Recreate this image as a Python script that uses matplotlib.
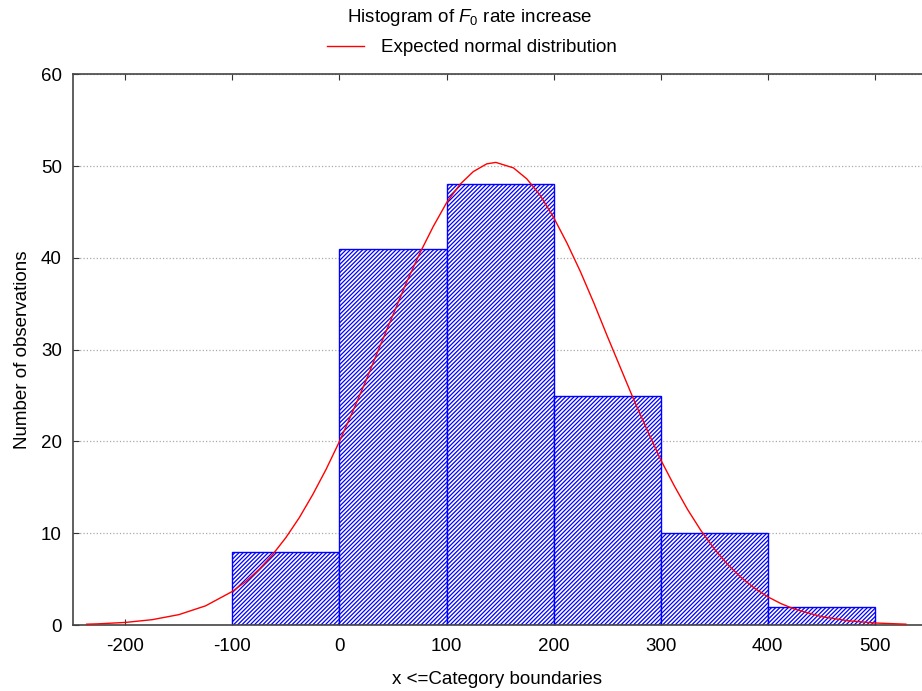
import matplotlib.pyplot as plt

# histogram data (category upper boundaries and counts)
bin_left = [-100, 0, 100, 200, 300, 400]
counts = [8, 41, 48, 25, 10, 2]
bin_width = 100

# expected normal curve
curve_x = [-236, -225, -200, -175, -150, -125, -100, -87.5, -75, -62.5, -50, -37.5,
           -25, -12.5, 0, 12.5, 25, 37.5, 50, 62.5, 75, 87.5, 100, 112.5, 125, 137.5,
           146, 162.5, 175, 187.5, 200, 212.5, 225, 237.5, 250, 262.5, 275, 287.5,
           300, 312.5, 325, 337.5, 350, 362.5, 375, 387.5, 400, 412.5, 425, 450,
           475, 500, 529]
curve_y = [0.09, 0.13, 0.28, 0.58, 1.13, 2.09, 3.66, 4.74, 6.07, 7.66, 9.53, 11.7,
           14.2, 16.96, 20.0, 23.3, 26.7, 30.3, 33.8, 37.3, 40.5, 43.4, 46.0, 48.0,
           49.4, 50.24, 50.4, 49.8, 48.6, 46.8, 44.4, 41.6, 38.5, 35.1, 31.5, 28.0,
           24.5, 21.2, 18.0, 15.2, 12.6, 10.3, 8.3, 6.6, 5.19, 4.02, 3.07, 2.32,
           1.73, 0.92, 0.46, 0.22, 0.09]

xticks = [-200, -100, 0, 100, 200, 300, 400, 500]
yticks = [0, 10, 20, 30, 40, 50, 60]

plt.rcParams['font.family'] = ['Liberation Sans', 'DejaVu Sans']
plt.rcParams['mathtext.fontset'] = 'custom'
plt.rcParams['mathtext.it'] = 'Liberation Sans:italic'
plt.rcParams['mathtext.rm'] = 'Liberation Sans'
plt.rcParams['axes.unicode_minus'] = False
plt.rcParams['hatch.linewidth'] = 0.9

fig = plt.figure(figsize=(9.22, 6.91), dpi=100)
ax = fig.add_axes([0.079, 0.0955, 0.921, 0.797])

ax.bar(bin_left, counts, width=bin_width, align='edge', color='white',
       edgecolor='blue', hatch='////////', linewidth=1.0, zorder=2)
line, = ax.plot(curve_x, curve_y, color='red', linewidth=1.0, zorder=3)

ax.set_xlim(-249, 544)
ax.set_ylim(0, 60)
ax.set_xticks(xticks)
ax.set_yticks(yticks)
ax.tick_params(axis='both', labelsize=13.5, direction='in', length=4, colors='#333333',
               labelcolor='black')
ax.tick_params(axis='x', top=True, pad=9)
ax.tick_params(axis='y', pad=8)
ax.grid(axis='y', linestyle=':', color='#aaaaaa', linewidth=0.9, zorder=0)
ax.set_axisbelow(True)
for s in ['left', 'bottom', 'top']:
    ax.spines[s].set_color('#444444')
    ax.spines[s].set_linewidth(1.2)
ax.spines['right'].set_visible(False)

ax.set_xlabel("x <=Category boundaries", fontsize=13.5, labelpad=12)
ax.set_ylabel("Number of observations", fontsize=13.5, labelpad=7)

fig.text(0.51, 0.975, "Histogram of $F_0$ rate increase", ha='center', va='center',
         fontsize=13.5)
fig.legend([line], ["Expected normal distribution"], loc='center',
           bbox_to_anchor=(0.512, 0.931), frameon=False, fontsize=13.5,
           handlelength=2.0, handletextpad=0.9)

fig.savefig("out.png", dpi=100)
